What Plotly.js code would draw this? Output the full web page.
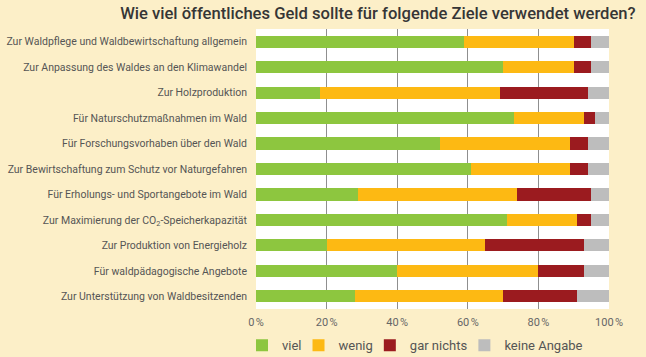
<!DOCTYPE html>
<html>
<head>
<meta charset="utf-8">
<script src="https://cdn.plot.ly/plotly-3.0.1.min.js"></script>
<style>
html,body{margin:0;padding:0;background:#fcefc8;}
#chart{width:646px;height:357px;}
</style>
</head>
<body>
<div id="chart"></div>
<script>
const categories = [
  "Zur Waldpflege und Waldbewirtschaftung allgemein",
  "Zur Anpassung des Waldes an den Klimawandel",
  "Zur Holzproduktion",
  "Für Naturschutzmaßnahmen im Wald",
  "Für Forschungsvorhaben über den Wald",
  "Zur Bewirtschaftung zum Schutz vor Naturgefahren",
  "Für Erholungs- und Sportangebote im Wald",
  "Zur Maximierung der CO<sub>2</sub>-Speicherkapazität",
  "Zur Produktion von Energieholz",
  "Für waldpädagogische Angebote",
  "Zur Unterstützung von Waldbesitzenden"
];
const viel       = [59, 70, 18, 73, 52, 61, 29, 71, 20, 40, 28];
const wenig      = [31, 20, 51, 20, 37, 28, 45, 20, 45, 40, 42];
const garNichts  = [ 5,  5, 25,  3,  5,  5, 21,  4, 28, 13, 21];
const keineAngabe= [ 5,  5,  6,  4,  6,  6,  5,  5,  7,  7,  9];
const seriesNames = ["viel", "wenig", "gar nichts", "keine Angabe"];
const tickVals = [0, 20, 40, 60, 80, 100];
const tickText = ["0\u202f%", "20\u202f%", "40\u202f%", "60\u202f%", "80\u202f%", "100\u202f%"];

const colors = ["#8dc63f", "#fdb913", "#9b1b1f", "#bdbdbd"];
const seriesValues = [viel, wenig, garNichts, keineAngabe];
const font = "Roboto, 'Open Sans', sans-serif";

const data = seriesValues.map((vals, i) => ({
  type: "bar",
  orientation: "h",
  name: seriesNames[i],
  x: vals,
  y: categories,
  marker: {color: colors[i], line: {width: 0}},
  hoverinfo: "x+name"
}));

const layout = {
  width: 646, height: 357,
  paper_bgcolor: "#fcefc8",
  plot_bgcolor: "#ffffff",
  barmode: "stack",
  bargap: 0.52,
  margin: {l: 256, r: 37, t: 29, b: 48, pad: 0, autoexpand: false},
  title: {
    text: "Wie viel öffentliches Geld sollte für folgende Ziele verwendet werden?",
    font: {family: font, size: 16.6, color: "#363636", weight: 500},
    xref: "container", x: 0.585, xanchor: "center",
    yref: "container", y: 0.962, yanchor: "middle"
  },
  xaxis: {
    range: [0, 100],
    tickvals: tickVals, ticktext: tickText,
    showgrid: true, gridcolor: "#8f8f8f", gridwidth: 1,
    zeroline: false, showline: false,
    ticks: "", ticklabelstandoff: 5,
    tickfont: {family: font, size: 11, color: "#666666"},
    fixedrange: true
  },
  yaxis: {
    autorange: "reversed",
    showgrid: false, zeroline: false, showline: false,
    ticks: "", ticklabelstandoff: 8,
    tickfont: {family: font, size: 10.5, color: "#555555"},
    fixedrange: true
  },
  legend: {
    orientation: "h",
    xref: "paper", x: -0.017, xanchor: "left",
    yref: "paper", y: -0.13, yanchor: "middle",
    font: {family: font, size: 13, color: "#555555"},
    bgcolor: "rgba(0,0,0,0)",
    traceorder: "normal",
    itemwidth: 30,
    indentation: -8,
    itemclick: false, itemdoubleclick: false
  },
  showlegend: true
};

Plotly.newPlot("chart", data, layout, {displayModeBar: false, staticPlot: true});
</script>
</body>
</html>
